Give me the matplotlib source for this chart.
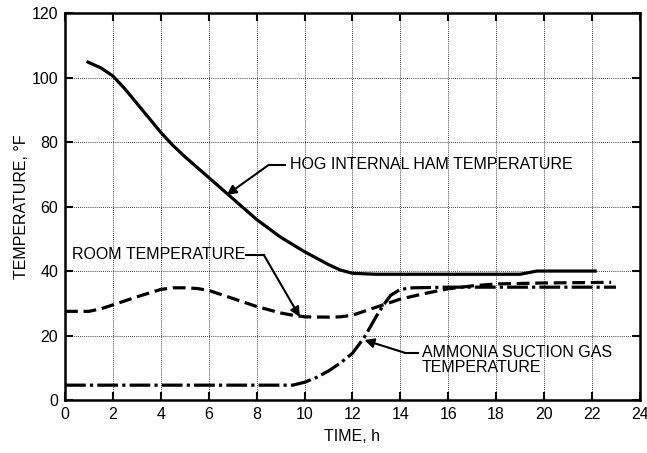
import matplotlib.pyplot as plt

plt.rcParams['font.family'] = ['Liberation Sans', 'DejaVu Sans']

# hog internal ham temperature
hog_t = [0.9, 1.5, 2.0, 2.5, 3.0, 3.5, 4.0, 4.5, 5.0, 6.0, 7.0, 8.0, 9.0, 10.0, 10.5, 11.0, 11.5, 12.0, 13.0, 16.0, 19.0, 19.7, 22.2]
hog_T = [105, 103, 100.5, 96.5, 92, 87.5, 83, 79, 75.5, 69, 62.5, 56, 50.5, 46, 44, 42, 40.3, 39.3, 39, 39, 39, 40, 40]

# room temperature
room_t = [0, 1.0, 1.5, 2.0, 3.0, 4.0, 4.5, 5.0, 5.5, 6.0, 7.0, 8.0, 9.0, 9.5, 10.0, 11.0, 11.5, 12.0, 13.0, 14.0, 15.0, 16.0, 17.0, 18.0, 20.0, 22.8]
room_T = [27.5, 27.5, 28.3, 29.5, 32, 34.3, 34.8, 34.8, 34.6, 34, 31.5, 29, 27, 26.3, 25.8, 25.7, 25.8, 26.3, 28.8, 31.3, 33, 34.5, 35.4, 36, 36.3, 36.5]

# ammonia suction gas temperature
amm_t = [0, 9.5, 10.0, 10.5, 11.0, 11.5, 12.0, 12.5, 13.0, 13.3, 13.6, 14.0, 14.5, 16.0, 20.0, 23.0]
amm_T = [4.6, 4.6, 5.5, 7.0, 9.0, 11.5, 14.5, 19.5, 26, 29.5, 32.5, 34.3, 34.8, 35, 35, 35]

fig = plt.figure(figsize=(6.47, 4.53), dpi=100)
ax = fig.add_axes([0.1005, 0.117, 0.8885, 0.854])

ax.plot(hog_t, hog_T, color='black', lw=2.3, solid_capstyle='butt')
ax.plot(room_t, room_T, color='black', lw=2.3, dashes=(4, 1.8))
ax.plot(amm_t, amm_T, color='black', lw=2.3, dashes=(6.5, 1.3, 1.0, 1.3))

ax.set_xlim(0, 24)
ax.set_ylim(0, 120)
ax.set_xticks(range(0, 25, 2))
ax.set_yticks(range(0, 121, 20))
ax.grid(True, color='black', linestyle=(0, (1, 1.5)), linewidth=0.6)
ax.tick_params(direction='in', length=6, width=1.5, top=True, right=True, labelsize=11.5, pad=5)
for s in ax.spines.values():
    s.set_linewidth(1.8)

ax.set_xlabel('TIME, h', fontsize=11.5, labelpad=5)
ax.set_ylabel('TEMPERATURE, °F', fontsize=11.5, labelpad=2)

arrow = dict(arrowstyle='-|>', color='black', lw=1.5, mutation_scale=14,
             shrinkA=0, shrinkB=0)

ax.text(9.4, 72.9, 'HOG INTERNAL HAM TEMPERATURE', fontsize=11.5, va='center')
ax.plot([9.2, 8.5], [72.9, 72.9], color='black', lw=1.5)
ax.annotate('', xy=(6.75, 63.6), xytext=(8.5, 72.9), arrowprops=arrow)

ax.text(0.3, 45, 'ROOM TEMPERATURE', fontsize=11.5, va='center')
ax.plot([7.55, 8.3], [45, 45], color='black', lw=1.5)
ax.annotate('', xy=(9.8, 25.8), xytext=(8.3, 45), arrowprops=arrow)

ax.text(14.9, 12.4, 'AMMONIA SUCTION GAS\nTEMPERATURE', fontsize=11.5, va='center',
        linespacing=0.95)
ax.plot([14.75, 14.2], [14.6, 14.6], color='black', lw=1.5)
ax.annotate('', xy=(12.5, 18.6), xytext=(14.2, 14.6), arrowprops=arrow)

fig.savefig('out.png')
